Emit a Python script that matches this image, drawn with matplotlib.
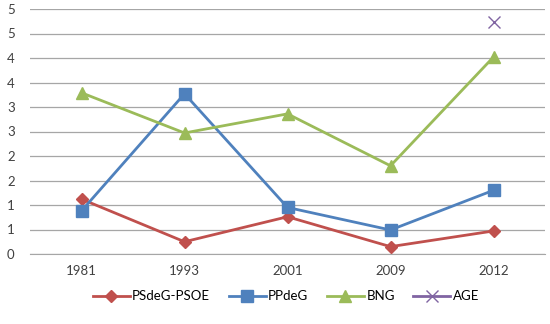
import matplotlib
matplotlib.use("Agg")
import matplotlib.pyplot as plt

# =====================================================
# DATA
# =====================================================

years = ["1981", "1993", "2001", "2009", "2012"]

psdeg_psoe = [1.12, 0.25, 0.76, 0.15, 0.47]
ppdeg = [0.88, 3.27, 0.95, 0.49, 1.30]
bng = [3.29, 2.47, 2.86, 1.80, 4.02]
age = [None, None, None, None, 4.73]

y_ticks = [0, 0.5, 1, 1.5, 2, 2.5, 3, 3.5, 4, 4.5, 5]
y_tick_labels = ["0", "1", "1", "2", "2", "3", "3", "4", "4", "5", "5"]

# =====================================================
# PLOT
# =====================================================

plt.rcParams["font.family"] = ["Lato", "DejaVu Sans"]

fig = plt.figure(figsize=(5.5, 3.24), dpi=100)
ax = fig.add_axes([30 / 550, 1 - 254 / 324, 515 / 550, 245 / 324])

x = list(range(len(years)))

ax.plot(x, psdeg_psoe, color="#C0504D", lw=2, marker="D", ms=6,
        label="PSdeG-PSOE")
ax.plot(x, ppdeg, color="#4F81BD", lw=2, marker="s", ms=8,
        label="PPdeG")
ax.plot(x, bng, color="#9BBB59", lw=2, marker="^", ms=9,
        label="BNG")
age_x = [i for i, v in enumerate(age) if v is not None]
age_y = [v for v in age if v is not None]
ax.plot(age_x, age_y, color="#8064A2", lw=2, marker="x", ms=8, mew=1,
        linestyle="none", label="AGE")

ax.set_xlim(-0.5, len(years) - 0.5)
ax.set_ylim(0, 5)
ax.set_xticks(x)
ax.set_xticklabels(years)
ax.set_yticks(y_ticks)
ax.set_yticklabels(y_tick_labels)

ax.grid(axis="y", color="#A6A6A6", lw=0.9)
ax.set_axisbelow(True)
for side in ["left", "right", "top"]:
    ax.spines[side].set_visible(False)
ax.spines["bottom"].set_color("#A6A6A6")
ax.tick_params(axis="both", length=0, labelsize=9.5, colors="#404040")
ax.tick_params(axis="y", pad=11)
ax.tick_params(axis="x", pad=8)

# legend line for AGE should show a line through the cross
handles, labels = ax.get_legend_handles_labels()
handles[3] = plt.Line2D([], [], color="#8064A2", lw=2, marker="x", ms=8)
fig.legend(handles, labels, loc="center", bbox_to_anchor=(0.52, 0.085),
           ncol=4, frameon=False, fontsize=9.5, handlelength=2.8,
           columnspacing=1.4, handletextpad=0.2)

fig.savefig("out.png", dpi=100)
